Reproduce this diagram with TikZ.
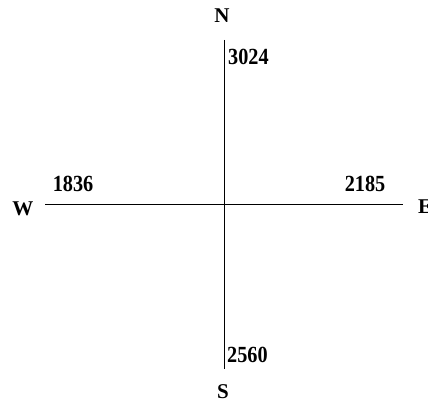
\documentclass[tikz,border=0pt]{standalone}
\usepackage{fontspec}
\setmainfont{Liberation Serif}
\begin{document}
\begin{tikzpicture}[x=1pt,y=-1pt,
  axis/.style={line width=1pt,black},
  dirlabel/.style={font=\fontsize{21}{21}\selectfont\bfseries,inner sep=0pt},
  numlabel/.style={font=\fontsize{22}{22}\selectfont\bfseries,inner sep=0pt,xscale=0.92,yscale=1.05}]
\begin{scope}
\clip (0,0) rectangle (428,404);
\useasboundingbox (0,0) rectangle (428,404);
\coordinate (top) at (224,40);
\coordinate (bot) at (224,369);
\coordinate (lft) at (45,204);
\coordinate (rgt) at (403,204);
\draw[axis] (top) -- (bot);
\draw[axis] (lft) -- (rgt);
\node[dirlabel] (N) at (222,16) {N};
\node[dirlabel] (S) at (223,392) {S};
\node[dirlabel] (W) at (23,209) {W};
\node[dirlabel,anchor=west] (E) at (418,207) {E};
\node[numlabel,anchor=west] (n3024) at (228,57) {3024};
\node[numlabel,anchor=west] (n2560) at (227,355) {2560};
\node[numlabel] (n1836) at (73,184) {1836};
\node[numlabel] (n2185) at (365,184) {2185};
\end{scope}
\end{tikzpicture}
\end{document}
